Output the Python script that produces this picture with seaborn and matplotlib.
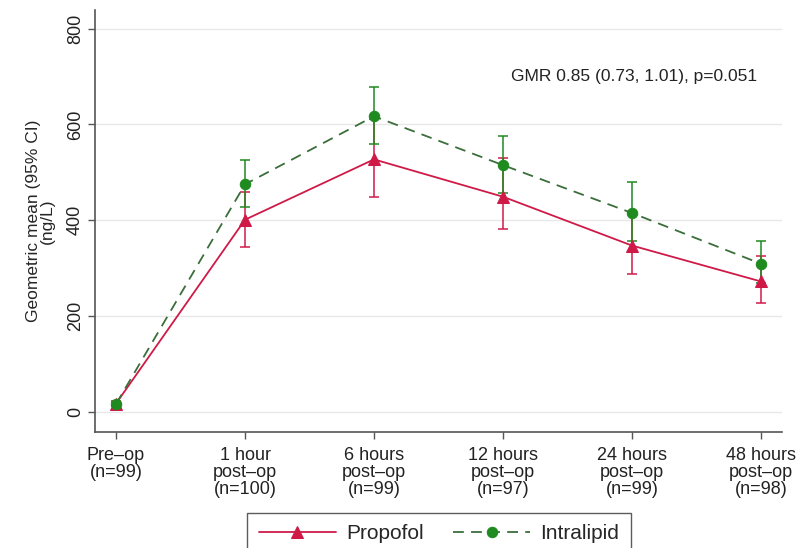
import numpy as np
import pandas as pd
import matplotlib
matplotlib.use("Agg")
import matplotlib.pyplot as plt
import seaborn as sns

timepoints = ["Pre\u2013op\n(n=99)", "1 hour\npost\u2013op\n(n=100)", "6 hours\npost\u2013op\n(n=99)",
              "12 hours\npost\u2013op\n(n=97)", "24 hours\npost\u2013op\n(n=99)", "48 hours\npost\u2013op\n(n=98)"]
propofol_mean = [17, 401, 527, 449, 347, 272]
propofol_lo = [12, 345, 448, 382, 288, 226]
propofol_hi = [22, 459, 612, 529, 418, 326]
intralipid_mean = [16, 475, 617, 515, 415, 309]
intralipid_lo = [11, 427, 560, 457, 357, 268]
intralipid_hi = [21, 526, 678, 576, 480, 356]
annotation = "GMR 0.85 (0.73, 1.01), p=0.051"

sns.set_theme(style="white")
plt.rcParams['font.family'] = ['Liberation Sans', 'DejaVu Sans']

red = "#CF1A48"
green = "#1F8A1F"
green_line = "#3B6E3B"

x = np.arange(len(timepoints))
df = pd.DataFrame({
    "x": np.concatenate([x, x]),
    "y": propofol_mean + intralipid_mean,
    "group": ["Propofol"] * len(x) + ["Intralipid"] * len(x),
})

fig = plt.figure(figsize=(8.11, 5.48), dpi=100)
ax = fig.add_axes([95/811, 1 - 432/548, (782-95)/811, (432-10)/548])

# gridlines
for yv in [0, 200, 400, 600, 800]:
    ax.axhline(yv, color="#E8E8E8", lw=1.0, zorder=0)

# error bars
ax.errorbar(x, propofol_mean,
            yerr=[np.array(propofol_mean) - np.array(propofol_lo), np.array(propofol_hi) - np.array(propofol_mean)],
            fmt="none", ecolor=red, elinewidth=1.1, capsize=3.6, capthick=1.1, zorder=2)
ax.errorbar(x, intralipid_mean,
            yerr=[np.array(intralipid_mean) - np.array(intralipid_lo), np.array(intralipid_hi) - np.array(intralipid_mean)],
            fmt="none", ecolor=green, elinewidth=1.1, capsize=3.6, capthick=1.1, zorder=3)

sub_p = df[df.group == "Propofol"]
sub_i = df[df.group == "Intralipid"]
sns.lineplot(data=sub_p, x="x", y="y", ax=ax, color=red, lw=1.3, marker="^", markersize=8,
             markeredgecolor=red, markerfacecolor=red, label="Propofol", zorder=4)
sns.lineplot(data=sub_i, x="x", y="y", ax=ax, color=green_line, lw=1.3, marker="o", markersize=7.5,
             markeredgecolor=green, markerfacecolor=green, label="Intralipid", zorder=5)
ax.lines[-1].set_dashes([6, 4])

ax.set_xlim(-0.163, 5.163)
ax.set_ylim(-42.4, 839)
ax.set_xticks(x)
ax.set_xticklabels(timepoints, fontsize=13, linespacing=1.0)
ax.set_yticks([0, 200, 400, 600, 800])
ax.set_yticklabels(["0", "200", "400", "600", "800"], fontsize=13, rotation=90, va="center")
ax.set_xlabel("")
ax.set_ylabel("Geometric mean (95% CI)\n(ng/L)", fontsize=12.5, linespacing=0.88, labelpad=9)

for s in ["top", "right"]:
    ax.spines[s].set_visible(False)
for s in ["left", "bottom"]:
    ax.spines[s].set_color("#555555")
    ax.spines[s].set_linewidth(1.2)
ax.tick_params(axis="both", which="both", direction="out", length=5, width=1, color="#555555",
               left=True, bottom=True, colors="#222222")
ax.tick_params(axis="x", pad=5.5)
ax.tick_params(axis="y", pad=3)

ax.text(757/811, 1 - 77/548, annotation, transform=fig.transFigure, ha="right", va="center",
        fontsize=12.5, color="#222222")

handles, labels = ax.get_legend_handles_labels()
leg = fig.legend(handles, labels, loc="upper center", bbox_to_anchor=(439/811, 1 - 513/548), ncol=2,
                 frameon=True, fancybox=False, edgecolor="#333333", fontsize=15, handlelength=3.7,
                 handletextpad=0.5, columnspacing=1.4, borderpad=0.55, borderaxespad=0)
leg.get_frame().set_linewidth(1.0)
if ax.get_legend() is not None:
    ax.get_legend().remove()

fig.savefig("out.png", dpi=100)
